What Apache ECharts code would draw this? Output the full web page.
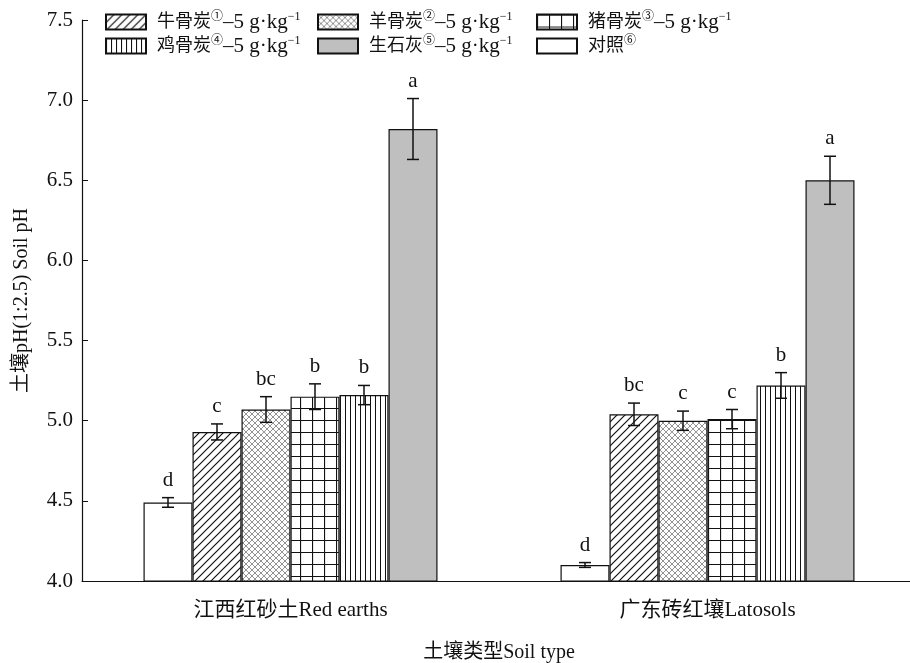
<!DOCTYPE html>
<html>
<head>
<meta charset="utf-8">
<script src="https://cdn.jsdelivr.net/npm/echarts@6/dist/echarts.min.js"></script>
<style>
  html, body { margin: 0; padding: 0; background: #fff; }
  #chart { width: 910px; height: 663px; }
</style>
</head>
<body>
<div id="chart"></div>
<script>
const categories = ["江西红砂土Red earths", "广东砖红壤Latosols"];
const seriesNames = ["对照", "牛骨炭", "羊骨炭", "猪骨炭", "鸡骨炭", "生石灰"];
const controlVals = [4.49, 4.10];
const cattleVals = [4.93, 5.04];
const sheepVals = [5.07, 5.00];
const pigVals = [5.15, 5.01];
const chickenVals = [5.16, 5.22];
const limeVals = [6.82, 6.50];
const controlErr = [0.03, 0.015];
const cattleErr = [0.05, 0.07];
const sheepErr = [0.08, 0.06];
const pigErr = [0.08, 0.06];
const chickenErr = [0.06, 0.08];
const limeErr = [0.19, 0.15];
const controlSig = ["d", "d"];
const cattleSig = ["c", "bc"];
const sheepSig = ["bc", "c"];
const pigSig = ["b", "c"];
const chickenSig = ["b", "b"];
const limeSig = ["a", "a"];
const yTicks = ["4.0", "4.5", "5.0", "5.5", "6.0", "6.5", "7.0", "7.5"];

const allVals = [controlVals, cattleVals, sheepVals, pigVals, chickenVals, limeVals];
const allErr = [controlErr, cattleErr, sheepErr, pigErr, chickenErr, limeErr];
const allSig = [controlSig, cattleSig, sheepSig, pigSig, chickenSig, limeSig];

const serif = "'Liberation Serif', 'Times New Roman', 'Noto Sans CJK SC', serif";
const barW = 49;

// hatch patterns
function makePattern(size, draw) {
  const c = document.createElement("canvas");
  c.width = size;
  c.height = size;
  const ctx = c.getContext("2d");
  ctx.fillStyle = "#fff";
  ctx.fillRect(0, 0, size, size);
  draw(ctx, size);
  return { image: c, repeat: "repeat" };
}

const diagPattern = makePattern(8, (ctx, s) => {
  ctx.strokeStyle = "#111";
  ctx.lineWidth = 1.2;
  ctx.beginPath();
  ctx.moveTo(-1, s + 1); ctx.lineTo(s + 1, -1);
  ctx.moveTo(-1, 1); ctx.lineTo(1, -1);
  ctx.moveTo(s - 1, s + 1); ctx.lineTo(s + 1, s - 1);
  ctx.stroke();
});

const crossPattern = makePattern(6, (ctx, s) => {
  ctx.strokeStyle = "#777";
  ctx.lineWidth = 0.8;
  ctx.beginPath();
  ctx.moveTo(0, s); ctx.lineTo(s, 0);
  ctx.moveTo(0, 0); ctx.lineTo(s, s);
  ctx.stroke();
});

const gridPattern = makePattern(12, (ctx, s) => {
  ctx.strokeStyle = "#111";
  ctx.lineWidth = 1.2;
  ctx.beginPath();
  ctx.moveTo(0.5, 0); ctx.lineTo(0.5, s);
  ctx.moveTo(0, 0.5); ctx.lineTo(s, 0.5);
  ctx.stroke();
});

const vertPattern = makePattern(5, (ctx, s) => {
  ctx.strokeStyle = "#111";
  ctx.lineWidth = 1;
  ctx.beginPath();
  ctx.moveTo(0.5, 0); ctx.lineTo(0.5, s);
  ctx.stroke();
});

const fills = ["#fff", diagPattern, crossPattern, gridPattern, vertPattern, "#bfbfbf"];

const legendText = {
  "牛骨炭": "{g| }{c|牛骨炭}{s|①}{a|–5 g·kg}{s|−1}",
  "羊骨炭": "{g| }{c|羊骨炭}{s|②}{a|–5 g·kg}{s|−1}",
  "猪骨炭": "{g| }{c|猪骨炭}{s|③}{a|–5 g·kg}{s|−1}",
  "鸡骨炭": "{g| }{c|鸡骨炭}{s|④}{a|–5 g·kg}{s|−1}",
  "生石灰": "{g| }{c|生石灰}{s|⑤}{a|–5 g·kg}{s|−1}",
  "对照": "{g| }{c|对照}{s|⑥}"
};

const legendPos = [
  ["牛骨炭", 105, 11],
  ["羊骨炭", 317, 11],
  ["猪骨炭", 536, 11],
  ["鸡骨炭", 105, 35],
  ["生石灰", 317, 35],
  ["对照", 536, 35]
];

const legends = legendPos.map(([name, left, top]) => ({
  data: [{ name: name, icon: "rect" }],
  left: left,
  top: top,
  padding: 0,
  itemWidth: 40,
  itemHeight: 15,
  itemGap: 0,
  formatter: (n) => legendText[n],
  textStyle: {
    rich: {
      g: { width: 6, fontSize: 10 },
      c: { fontFamily: serif, fontSize: 18, color: "#111" },
      a: { fontFamily: serif, fontSize: 21, color: "#111" },
      s: { fontFamily: serif, fontSize: 12, color: "#111", padding: [0, 0, 10, 0] }
    }
  }
}));

const barSeries = seriesNames.map((name, i) => ({
  name: name,
  type: "bar",
  barWidth: barW,
  barGap: "0%",
  data: allVals[i],
  itemStyle: { color: fills[i], borderColor: "#111", borderWidth: 1.2 },
  emphasis: { disabled: true }
}));

const errData = [];
allVals.forEach((vals, s) => {
  vals.forEach((v, c) => {
    errData.push([c, v, allErr[s][c], s, allSig[s][c]]);
  });
});

const errSeries = {
  type: "custom",
  silent: true,
  z: 10,
  data: errData,
  renderItem: (params, api) => {
    const c = api.value(0), v = api.value(1), e = api.value(2), s = api.value(3);
    const letter = errData[params.dataIndex][4];
    const x = api.coord([c, v])[0] + (s - 2.5) * barW;
    const yTop = api.coord([c, v + e])[1];
    const yBot = api.coord([c, v - e])[1];
    const style = { stroke: "#111", lineWidth: 1.5 };
    const cap = 6;
    return {
      type: "group",
      children: [
        { type: "line", shape: { x1: x, y1: yTop, x2: x, y2: yBot }, style },
        { type: "line", shape: { x1: x - cap, y1: yTop, x2: x + cap, y2: yTop }, style },
        { type: "line", shape: { x1: x - cap, y1: yBot, x2: x + cap, y2: yBot }, style },
        {
          type: "text",
          style: {
            text: letter, x: x, y: yTop - 7,
            align: "center", verticalAlign: "bottom",
            fontFamily: serif, fontSize: 21, fill: "#111"
          }
        }
      ]
    };
  }
};

const chart = echarts.init(document.getElementById("chart"));
chart.setOption({
  animation: false,
  backgroundColor: "#fff",
  legend: legends,
  grid: { left: 82, right: -6, top: 20, bottom: 82, outerBoundsMode: "none", containLabel: false },
  xAxis: {
    type: "category",
    data: categories,
    name: "土壤类型Soil type",
    nameLocation: "middle",
    nameGap: 62,
    nameTextStyle: { fontFamily: serif, fontSize: 20, color: "#111" },
    axisLine: { lineStyle: { color: "#111", width: 1.2 } },
    axisTick: { show: false },
    axisLabel: { fontFamily: serif, fontSize: 21, color: "#111", margin: 19 }
  },
  yAxis: {
    type: "value",
    min: 4,
    max: 7.5,
    interval: 0.5,
    name: "土壤pH(1:2.5) Soil pH",
    nameLocation: "middle",
    nameGap: 50,
    nameTextStyle: { fontFamily: serif, fontSize: 20, color: "#111" },
    axisLine: { show: true, lineStyle: { color: "#111", width: 1.2 } },
    axisTick: { show: true, inside: true, length: 6, lineStyle: { color: "#111" } },
    splitLine: { show: false },
    axisLabel: {
      fontFamily: serif, fontSize: 21, color: "#111", margin: 9,
      formatter: (v) => yTicks[Math.round((v - 4) / 0.5)]
    }
  },
  series: [...barSeries, errSeries]
});
</script>
</body>
</html>
